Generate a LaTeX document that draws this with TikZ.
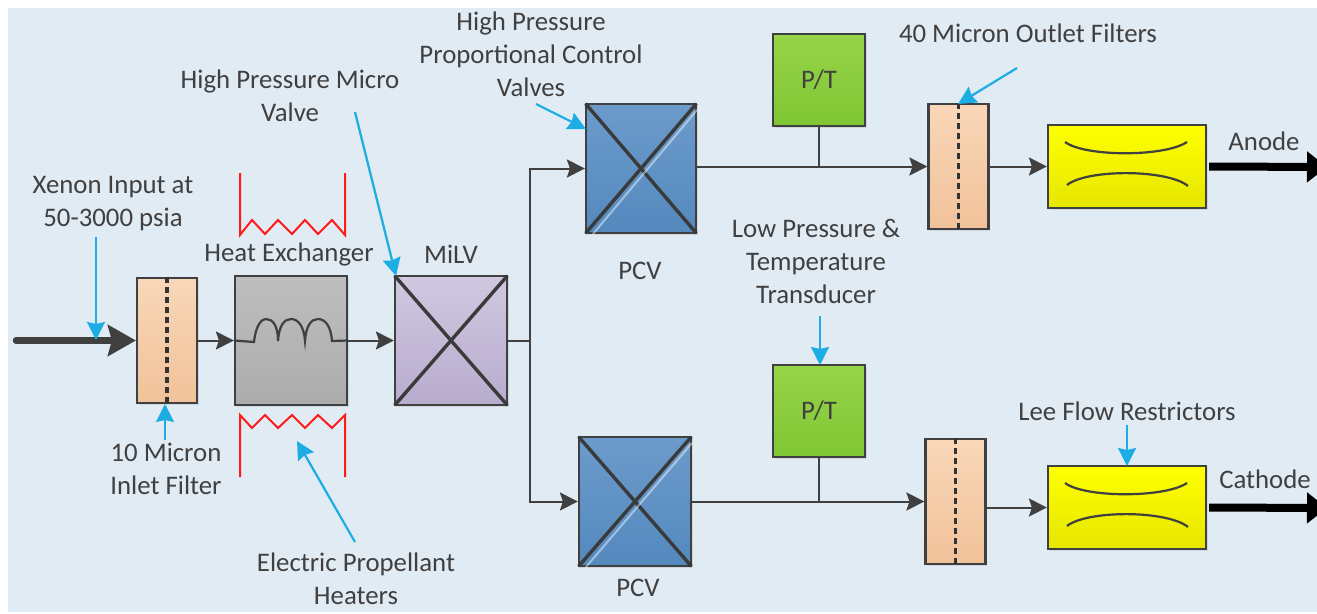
\documentclass[tikz,border=0pt]{standalone}
\usepackage{fontspec}
\setmainfont{Carlito}
\usetikzlibrary{arrows.meta,shadows}
\definecolor{ink}{HTML}{404040}
\definecolor{callout}{HTML}{1CADE4}
\definecolor{bg}{HTML}{E1EBF4}
\tikzset{
  lbl/.style={text=ink,font=\fontsize{26.8}{33}\selectfont,align=center,inner sep=0pt},
  block/.style={draw=ink,line width=2.2pt,inner sep=0pt,minimum width=#1,
    drop shadow={opacity=.18,shadow xshift=1.5pt,shadow yshift=-1.5pt}},
  filterbox/.style={block=60pt,minimum height=125pt,
    top color={rgb,255:red,248;green,215;blue,184},bottom color={rgb,255:red,241;green,194;blue,154}},
  valveblue/.style={block=110pt,minimum height=129pt,top color={rgb,255:red,108;green,155;blue,203},bottom color={rgb,255:red,84;green,137;blue,190}},
  valvepurple/.style={block=112pt,minimum height=129pt,top color={rgb,255:red,208;green,200;blue,224},bottom color={rgb,255:red,184;green,172;blue,206}},
  ptbox/.style={block=92pt,minimum height=92pt,top color={rgb,255:red,150;green,212;blue,72},bottom color={rgb,255:red,128;green,198;blue,52},text=ink,font=\fontsize{26.8}{30}\selectfont},
  leebox/.style={block=158pt,minimum height=83pt,top color={rgb,255:red,255;green,255;blue,0},bottom color={rgb,255:red,230;green,230;blue,0}},
  exbox/.style={block=112pt,minimum height=129pt,top color={rgb,255:red,190;green,190;blue,190},bottom color={rgb,255:red,172;green,172;blue,172}},
  flow/.style={draw=ink,line width=2pt,-{Stealth[length=18pt,width=18pt,inset=3pt]}},
  link/.style={draw=ink,line width=2pt},
  crossline/.style={draw=ink!90!black,line width=3.4pt,shorten >=1pt,shorten <=1pt},
  glint/.style={draw=white,draw opacity=.45,line width=2pt},
  mesh/.style={draw=black!80,line width=3.4pt,dash pattern=on 6pt off 4pt},
  note/.style={draw=callout,line width=2.2pt,-{Stealth[length=18pt,width=18pt,inset=2pt]}},
  heater/.style={draw=red!90!white,line width=2pt,line join=miter},
  curve/.style={draw=ink,line width=2.2pt},
  power/.style={draw=black,line width=8pt,-{Stealth[length=20pt,width=30pt,inset=0pt]}},
}
\begin{document}
\begin{tikzpicture}[x=1pt,y=-1pt]
\clip (0,0) rectangle (1317,613);
\fill[white] (0,0) rectangle (1317,613);
\fill[bg] (8,8) rectangle (1317,612);

% blocks
\node[filterbox] (inf) at (167,340.5) {};
\node[exbox] (hx) at (291,340.5) {};
\node[valvepurple] (milv) at (451,340.5) {};
\node[valveblue] (pcvA) at (641,168.5) {};
\node[valveblue,minimum width=112pt] (pcvB) at (635,501.5) {};
\node[ptbox] (ptA) at (819,80) {P/T};
\node[ptbox] (ptB) at (819,411) {P/T};
\node[filterbox] (ofA) at (958.5,166.5) {};
\node[filterbox] (ofB) at (955.5,501.5) {};
\node[leebox] (leeA) at (1127,166.5) {};
\node[leebox] (leeB) at (1127,507.5) {};

% inner marks
\foreach \b in {inf,ofA,ofB} \draw[mesh] (\b.north) -- (\b.south);
\foreach \b in {milv,pcvA,pcvB} {
  \draw[crossline] (\b.north west) -- (\b.south east);
  \draw[crossline] (\b.south west) -- (\b.north east);
}
\foreach \b in {pcvA,pcvB} \draw[glint] ([xshift=8pt]\b.south west) -- ([yshift=-7pt]\b.north east);

% coil
\draw[curve] (hx.west) -- (254,342)
  .. controls (256,324) and (262,319) .. (266,319) .. controls (273,319) and (278,326) .. (278,341)
  .. controls (279,326) and (284,319) .. (291,319) .. controls (298,319) and (304,326) .. (305,341)
  .. controls (306,326) and (311,319) .. (318,319) .. controls (325,319) and (331,326) .. (332,341)
  -- (hx.east);

% Lee curves
\foreach \b/\d in {leeA/0,leeB/341} {
  \draw[curve] (1065,142+\d) .. controls (1085,157+\d) and (1165,157+\d) .. (1187,142+\d);
  \draw[curve] (1067,185+\d) .. controls (1087,169+\d) and (1167,169+\d) .. (1188,186+\d);
}

% heaters
\coordinate (heatTopL) at (240,173);
\coordinate (heatTopR) at (345,173);
\draw[heater] (heatTopL) -- (240,235) -- (252,220) -- (265,234) -- (278,220) -- (292,234) -- (305,220) -- (318,234) -- (332,220) -- (345,235) -- (heatTopR);
\coordinate (heatBotL) at (240,477);
\coordinate (heatBotR) at (345,477);
\draw[heater] (heatBotL) -- (240,415) -- (252,428) -- (265,415) -- (278,428) -- (292,415) -- (305,428) -- (318,415) -- (332,428) -- (345,415) -- (heatBotR);

% flow
\coordinate (src) at (16,340.5);
\draw[draw=ink,line width=6.5pt,line cap=round,-{Stealth[length=28pt,width=31pt,inset=4pt]}] (src) -- (inf.west);
\draw[flow] (inf.east) -- (hx.west);
\draw[flow] (hx.east) -- (milv.west);
\coordinate (junc) at (530,340.5);
\draw[link] (milv.east) -- (junc);
\draw[flow] (junc) |- (pcvA.west);
\draw[flow] (junc) |- (pcvB.west);
\draw[flow] (pcvA.east |- ofA.west) -- (ofA.west);
\draw[flow] (pcvB.east) -- (ofB.west);
\draw[link] (ptA.south) -- (ptA.south |- ofA.west);
\draw[link] (ptB.south) -- (ptB.south |- ofB.west);
\draw[flow] (ofA.east) -- (leeA.west);
\draw[flow] (ofB.east |- leeB.west) -- (leeB.west);
\coordinate (anode) at (1327,167);
\coordinate (cathode) at (1327,508);
\draw[power] ([xshift=2pt]leeA.east) -- (anode);
\draw[power] ([xshift=2pt]leeB.east) -- (cathode);

% labels
\node[lbl] (t1) at (113,203.5) {Xenon Input at\\50-3000 psia};
\node[lbl] (t2) at (166,469) {10 Micron\\Inlet Filter};
\node[lbl] (t3) at (289,254) {Heat Exchanger};
\node[lbl] (t4) at (451,254) {MiLV};
\node[lbl] (t5) at (290,96) {High Pressure Micro\\Valve};
\node[lbl] (t6) at (531,54) {High Pressure\\Proportional Control\\Valves};
\node[lbl] (t7) at (640,271) {PCV};
\node[lbl] (t8) at (638,588) {PCV};
\node[lbl] (t9) at (1028,33) {40 Micron Outlet Filters};
\node[lbl] (t10) at (816,261) {Low Pressure \&\\Temperature\\Transducer};
\node[lbl] (t11) at (1127,411) {Lee Flow Restrictors};
\node[lbl] (t12) at (356,579) {Electric Propellant\\Heaters};
\node[lbl] (t13) at (1264,141) {Anode};
\node[lbl] (t14) at (1265,479) {Cathode};

% callouts
\coordinate (c1a) at (96,237); \coordinate (c1b) at (96,340);
\coordinate (c2a) at (165,440); \coordinate (c2b) at (165,404);
\coordinate (c3a) at (355,112); \coordinate (c3b) at (396,276);
\coordinate (c4a) at (536,104); \coordinate (c4b) at (586,129);
\coordinate (c5a) at (1017,68); \coordinate (c5b) at (958,104);
\coordinate (c6a) at (820,316); \coordinate (c6b) at (820,365);
\coordinate (c7a) at (1127,425); \coordinate (c7b) at (1127,466);
\coordinate (c8a) at (355,542); \coordinate (c8b) at (297,441);
\foreach \n in {1,...,8} \draw[note] (c\n a) -- (c\n b);
\end{tikzpicture}
\end{document}
